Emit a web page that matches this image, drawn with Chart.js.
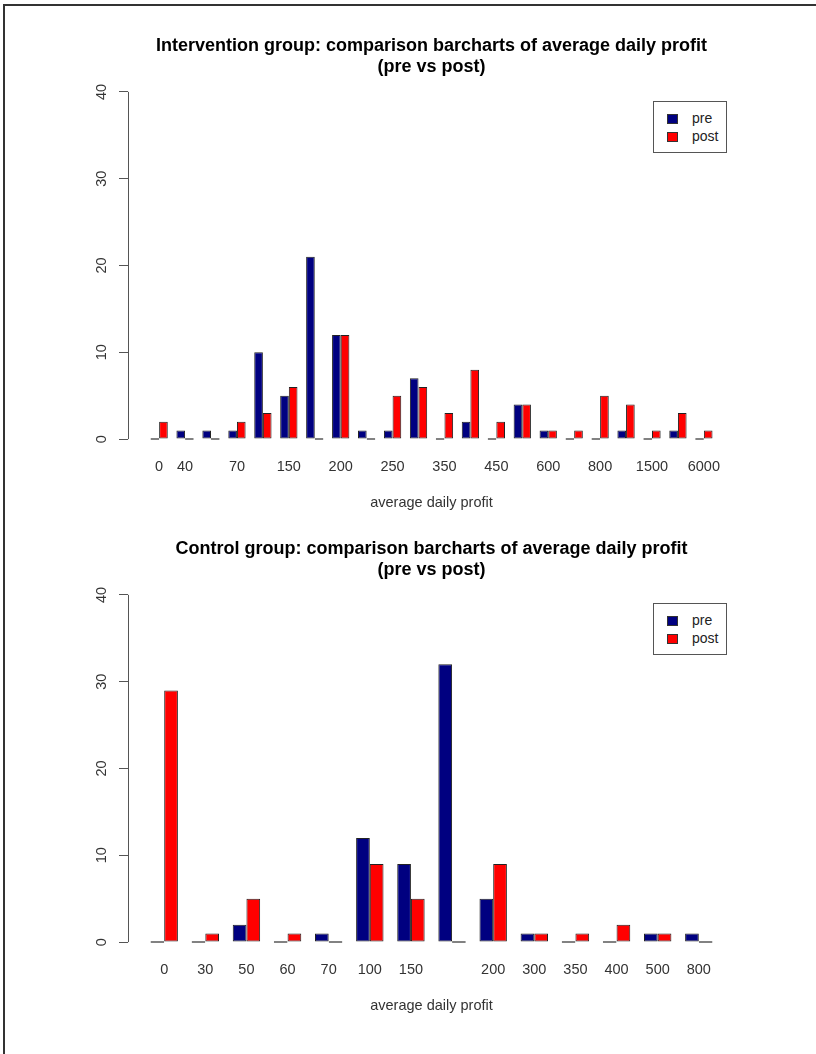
<!DOCTYPE html>
<html>
<head>
<meta charset="utf-8">
<script src="https://cdn.jsdelivr.net/npm/chart.js@4.4.1/dist/chart.umd.min.js"></script>
<style>
  body { margin: 0; width: 816px; height: 1054px; background: #fff; position: relative; overflow: hidden;
         font-family: 'Liberation Sans', Arial, sans-serif; }
  .frame { position: absolute; left: 3px; top: 4px; width: 840px; height: 1080px;
           border-top: 2px solid #333; border-left: 2px solid #333; }
  canvas { position: absolute; left: 0; }
  .legend { position: absolute; left: 653px; width: 72px; height: 50px; border: 1px solid #555; background: #fff; }
  .legend .item { position: absolute; left: 13px; height: 18px; font-size: 14px; color: #222; }
  .legend .sw { position: absolute; left: 0; top: 0; width: 9px; height: 8px; border: 1px solid #333; }
  .legend .txt { position: absolute; left: 25px; top: -4px; white-space: nowrap; }
</style>
</head>
<body>
<div class="frame"></div>
<canvas id="topChart" width="816" height="527" style="top:0px"></canvas>
<canvas id="bottomChart" width="816" height="527" style="top:503px"></canvas>

<script>
/* global Chart */
// intervention group
const topLabels = ['0', '40', '', '70', '', '150', '', '200', '', '250', '', '350', '', '450', '', '600', '', '800', '', '1500', '', '6000']
const topPre = [0, 1, 1, 1, 10, 5, 21, 12, 1, 1, 7, 0, 2, 0, 4, 1, 0, 0, 1, 0, 1, 0]
const topPost = [2, 0, 0, 2, 3, 6, 0, 12, 0, 5, 6, 3, 8, 2, 4, 1, 1, 5, 4, 1, 3, 1]

// control group
const bottomLabels = ['0', '30', '50', '60', '70', '100', '150', '', '200', '300', '350', '400', '500', '800']
const bottomPre = [0, 0, 2, 0, 1, 12, 9, 32, 5, 1, 0, 0, 1, 1]
const bottomPost = [29, 1, 5, 1, 0, 9, 5, 0, 9, 1, 1, 2, 1, 0]

const yTicks = [0, 10, 20, 30, 40]
const seriesNames = ['pre', 'post']
const seriesColors = ['#000080', '#ff0000']

Chart.defaults.font.family = "'Liberation Sans', Arial, sans-serif"

// R style y axis line: only from first to last tick
const axisLine = {
  id: 'axisLine',
  afterDraw (chart) {
    const ys = chart.scales.y
    const ctx = chart.ctx
    const x = Math.round(chart.chartArea.left) + 0.5
    ctx.save()
    ctx.strokeStyle = '#555'
    ctx.lineWidth = 1
    ctx.beginPath()
    ctx.moveTo(x, ys.getPixelForValue(yTicks[0]))
    ctx.lineTo(x, ys.getPixelForValue(yTicks[yTicks.length - 1]))
    ctx.stroke()
    ctx.restore()
  }
}

function makeChart (id, title, labels, pre, post) {
  const n = labels.length
  const pad = (1 + 0.04 * (3 * n - 1)) / 3 // barplot xlim padding, in groups
  const series = [pre, post]
  return new Chart(document.getElementById(id), {
    type: 'bar',
    data: {
      datasets: series.map((vals, k) => ({
        label: seriesNames[k],
        data: vals.map((v, i) => ({ x: i, y: v })),
        backgroundColor: seriesColors[k],
        borderColor: '#222',
        borderWidth: 1,
        borderSkipped: false,
        minBarLength: 1.5,
        categoryPercentage: 2 / 3,
        barPercentage: 1
      }))
    },
    options: {
      responsive: false,
      animation: false,
      layout: { padding: { left: 0, right: 81, top: 0, bottom: 0 } },
      plugins: {
        legend: { display: false },
        tooltip: { enabled: false },
        title: {
          display: true,
          text: [title, '(pre vs post)'],
          fullSize: false,
          color: '#000',
          font: { size: 18, weight: 'bold', lineHeight: 21 / 18 },
          padding: { top: 36, bottom: 0 }
        }
      },
      scales: {
        x: {
          type: 'linear',
          offset: false,
          min: -pad,
          max: n - 1 + pad,
          grid: { display: false, drawTicks: false },
          border: { display: false },
          afterBuildTicks: (s) => { s.ticks = labels.map((_, i) => ({ value: i })) },
          afterFit: (s) => { s.height = 74 },
          ticks: {
            autoSkip: false,
            maxRotation: 0,
            padding: 5,
            color: '#333',
            font: { size: 14.5 },
            callback: (v) => labels[v]
          },
          title: {
            display: true,
            text: 'average daily profit',
            color: '#333',
            font: { size: 14.5 },
            padding: { top: 15, bottom: 15 }
          }
        },
        y: {
          min: -1.6,
          max: 41.6,
          afterFit: (s) => { s.width = 128 },
          afterBuildTicks: (s) => { s.ticks = yTicks.map(v => ({ value: v })) },
          grid: { drawOnChartArea: false, drawTicks: true, tickLength: 9, color: '#555' },
          border: { display: false },
          ticks: {
            minRotation: 90,
            maxRotation: 90,
            crossAlign: 'center',
            padding: 9,
            color: '#333',
            font: { size: 14.5 }
          }
        }
      }
    },
    plugins: [axisLine]
  })
}

function makeLegend (top) {
  const box = document.createElement('div')
  box.className = 'legend'
  box.style.top = top + 'px'
  seriesNames.forEach((name, k) => {
    const item = document.createElement('div')
    item.className = 'item'
    item.style.top = (12 + k * 18) + 'px'
    item.innerHTML = '<span class="sw" style="background:' + seriesColors[k] + '"></span><span class="txt">' + name + '</span>'
    box.appendChild(item)
  })
  document.body.appendChild(box)
}

makeChart('topChart', 'Intervention group: comparison barcharts of average daily profit', topLabels, topPre, topPost)
makeChart('bottomChart', 'Control group: comparison barcharts of average daily profit', bottomLabels, bottomPre, bottomPost)
makeLegend(101)
makeLegend(603)
</script>
</body>
</html>
